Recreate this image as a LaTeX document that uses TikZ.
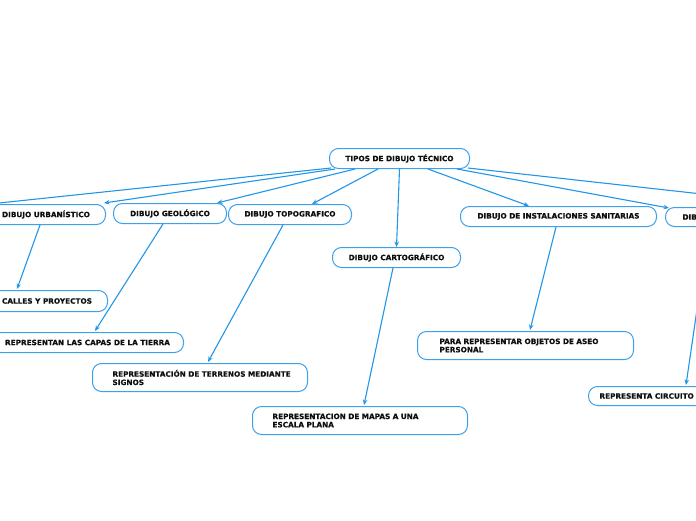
\documentclass[tikz,border=0pt]{standalone}
\usepackage{fontspec}
\newfontfamily\mapfont{DejaVu Sans}[BoldFeatures={FakeBold=0.6}]
\usetikzlibrary{arrows.meta}
\definecolor{linec}{RGB}{33,150,232}
\definecolor{boxc}{RGB}{60,160,235}
\definecolor{txtc}{RGB}{15,15,15}
\tikzset{
  mbox/.style={draw=boxc, line width=1pt, rounded corners=9pt, fill=white,
    font=\mapfont\bfseries\fontsize{7.3}{8.3}\selectfont, text=txtc,
    inner sep=0pt, anchor=north west},
  lbox/.style={mbox, align=left},
  conn/.style={draw=linec, line width=1.1pt, -{Stealth[length=5.5pt,width=4.5pt]}},
  freeconn/.style={draw=linec, line width=1.1pt},
}
\begin{document}
\begin{tikzpicture}[x=1pt,y=-1pt]
\path[use as bounding box] (0,0) rectangle (696,520);
\clip (0,0) rectangle (696,520);
% level 0
\node[mbox, minimum width=140pt, minimum height=20pt] (tipos) at (329,148) {TIPOS DE DIBUJO TÉCNICO};
% level 1
\node[mbox, minimum width=119pt, minimum height=20pt] (urb) at (-14,204) {DIBUJO URBANÍSTICO};
\node[mbox, minimum width=113pt, minimum height=20pt] (geo) at (113,203) {DIBUJO GEOLÓGICO};
\node[mbox, minimum width=123pt, minimum height=20pt] (topo) at (228,204) {DIBUJO TOPOGRAFICO};
\node[mbox, minimum width=128pt, minimum height=20pt] (carto) at (332,247) {DIBUJO CARTOGRÁFICO};
\node[mbox, minimum width=196pt, minimum height=20pt] (sanit) at (460,206) {DIBUJO DE INSTALACIONES SANITARIAS};
\node[lbox, inner xsep=17pt, text width=106pt, minimum height=19pt] (dib) at (665,207) {DIB};
% level 2
\node[mbox, minimum width=121pt, minimum height=21pt] (calles) at (-14,290) {CALLES Y PROYECTOS};
\node[mbox, minimum width=192pt, minimum height=20pt] (capas) at (-9,332) {REPRESENTAN LAS CAPAS DE LA TIERRA};
\node[lbox, inner xsep=20pt, text width=175pt, minimum height=28pt] (terrenos) at (92,363) {\mbox{REPRESENTACIÓN DE TERRENOS MEDIANTE}\\\mbox{SIGNOS}};
\node[lbox, inner xsep=20pt, text width=175pt, minimum height=28pt] (mapas) at (252,406) {\mbox{REPRESENTACION DE MAPAS A UNA}\\\mbox{ESCALA PLANA}};
\node[lbox, inner xsep=22pt, text width=172pt, minimum height=28pt] (aseo) at (417,331) {\mbox{PARA REPRESENTAR OBJETOS DE ASEO}\\\mbox{PERSONAL}};
\node[lbox, inner xsep=11pt, text width=128pt, minimum height=19pt] (circ) at (588,386) {REPRESENTA CIRCUITO};
% free ends
\coordinate (offL) at (-20,205);
\coordinate (offR) at (720,196);
% connectors from root
\draw[freeconn] ([shift={(2,-1)}]tipos.south west) -- (offL);
\draw[conn] ([shift={(6,0)}]tipos.south west) -- ([shift={(-2,-1)}]urb.north east);
\draw[conn] ([shift={(26,0)}]tipos.south west) -- ([shift={(104,0)}]geo.north west);
\draw[conn] ([shift={(49,0)}]tipos.south west) -- ([shift={(84,0)}]topo.north west);
\draw[conn] (tipos.south) -- (carto.north);
\draw[conn] ([shift={(99,0)}]tipos.south west) -- ([shift={(69,0)}]sanit.north west);
\draw[conn] ([shift={(128,0)}]tipos.south west) -- ([shift={(4,1)}]dib.north west);
\draw[freeconn] ([shift={(-2,-1)}]tipos.south east) -- (offR);
% connectors to level 2
\draw[conn] ([shift={(54,0)}]urb.south west) -- ([shift={(31,-1)}]calles.north west);
\draw[conn] ([shift={(50,0)}]geo.south west) -- ([shift={(104,-1)}]capas.north west);
\draw[conn] ([shift={(55,0)}]topo.south west) -- ([shift={(116,-1)}]terrenos.north west);
\draw[conn] ([shift={(61,0)}]carto.south west) -- ([shift={(112,-1)}]mapas.north west);
\draw[conn] ([shift={(96,0)}]sanit.south west) -- ([shift={(113,-1)}]aseo.north west);
\draw[conn] ([shift={(44,0)}]dib.south west) -- ([shift={(98,-1)}]circ.north west);
\end{tikzpicture}
\end{document}
